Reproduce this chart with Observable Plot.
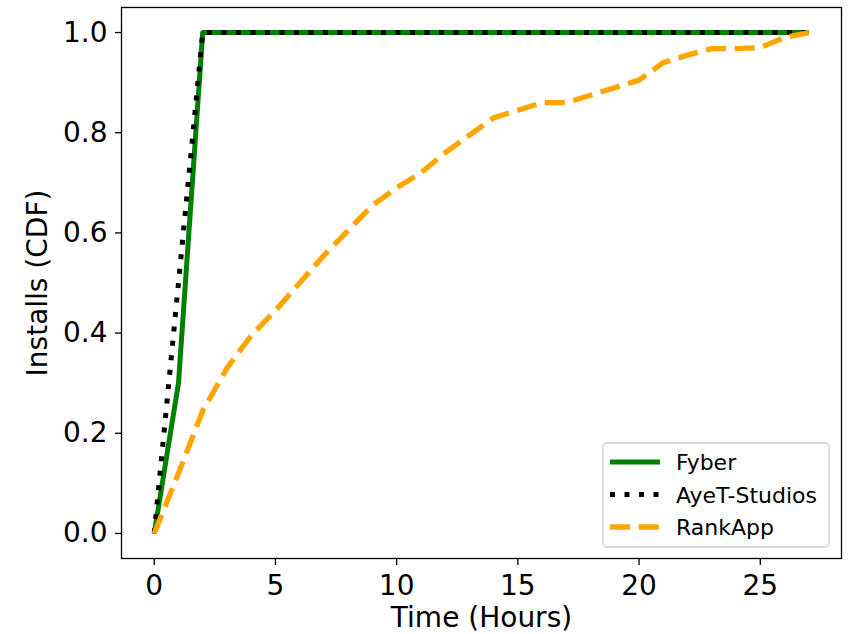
<!DOCTYPE html>
<html>
<head>
<meta charset="utf-8">
<script src="https://cdn.jsdelivr.net/npm/d3@7"></script>
<script src="https://cdn.jsdelivr.net/npm/@observablehq/plot@0.6"></script>
<style>
  html, body { margin: 0; padding: 0; background: white; }
  #chart svg { display: block; }
</style>
</head>
<body>
<div id="chart"></div>
<script>
// ---- data ----
const hours = [0,1,2,3,4,5,6,7,8,9,10,11,12,13,14,15,16,17,18,19,20,21,22,23,24,25,26,27];
const fyber = [0,0.3,1,1,1,1,1,1,1,1,1,1,1,1,1,1,1,1,1,1,1,1,1,1,1,1,1,1];
const ayet  = [0,0.5,1,1,1,1,1,1,1,1,1,1,1,1,1,1,1,1,1,1,1,1,1,1,1,1,1,1];
const rankApp = [0,0.12,0.245,0.33,0.395,0.445,0.50,0.555,0.605,0.655,0.69,0.72,0.76,0.795,0.83,0.845,0.86,0.86,0.875,0.89,0.905,0.94,0.955,0.968,0.968,0.97,0.99,1.0];
const seriesNames = ["Fyber", "AyeT-Studios", "RankApp"];
const xTicks = [0,5,10,15,20,25];
const yTicks = [0,0.2,0.4,0.6,0.8,1.0];
const xLabel = "Time (Hours)";
const yLabel = "Installs (CDF)";

const styles = {
  "Fyber": {stroke: "green", strokeWidth: 5, dash: null, cap: "butt"},
  "AyeT-Studios": {stroke: "black", strokeWidth: 5, dash: "5 9.5", cap: "butt"},
  "RankApp": {stroke: "orange", strokeWidth: 5.3, dash: "20 8.7", cap: "butt"}
};
const values = {"Fyber": fyber, "AyeT-Studios": ayet, "RankApp": rankApp};
const rows = name => hours.map((h, i) => ({t: h, v: values[name][i]}));

const lineMarks = seriesNames.map(name => Plot.line(rows(name), {
  x: "t", y: "v",
  stroke: styles[name].stroke,
  strokeWidth: styles[name].strokeWidth,
  strokeDasharray: styles[name].dash,
  strokeLinecap: styles[name].cap,
  strokeLinejoin: "round"
}));

const FS = 28;
const chart = Plot.plot({
  width: 851,
  height: 634,
  marginLeft: 121,
  marginRight: 10,
  marginTop: 7,
  marginBottom: 76,
  style: {fontFamily: "DejaVu Sans", fontSize: FS + "px", color: "black", background: "white"},
  x: {domain: [-1.35, 28.35]},
  y: {domain: [-0.05, 1.05]},
  marks: [
    ...lineMarks,
    Plot.frame({stroke: "black", strokeWidth: 1.3}),
    Plot.axisX({ticks: xTicks, tickSize: 7, tickPadding: 10, label: null, strokeWidth: 1.3, fontSize: FS}),
    Plot.axisY({ticks: yTicks, tickSize: 6, tickPadding: 8, label: null, tickFormat: d3.format(".1f"), strokeWidth: 1.3, fontSize: FS}),
    Plot.text([xLabel], {text: d => d, frameAnchor: "bottom", dy: 60, textAnchor: "middle", lineAnchor: "middle", fontSize: FS, fill: "black"}),
    Plot.text([yLabel], {text: d => d, frameAnchor: "left", dx: -83, rotate: -90, textAnchor: "middle", lineAnchor: "middle", fontSize: FS, fill: "black"})
  ]
});
document.getElementById("chart").appendChild(chart);

// ---- legend ----
const svg = d3.select(chart);
const lg = svg.append("g").attr("class", "legend");
lg.append("rect")
  .attr("x", 603).attr("y", 443).attr("width", 226).attr("height", 104)
  .attr("rx", 4).attr("fill", "white").attr("fill-opacity", 0.8)
  .attr("stroke", "#cccccc").attr("stroke-width", 1.3);
seriesNames.forEach((name, i) => {
  const yy = 462 + i * 32.5;
  const s = styles[name];
  lg.append("line")
    .attr("x1", 610).attr("x2", 660).attr("y1", yy).attr("y2", yy)
    .attr("stroke", s.stroke).attr("stroke-width", s.strokeWidth)
    .attr("stroke-dasharray", s.dash).attr("stroke-linecap", s.cap);
  lg.append("text")
    .attr("x", 676).attr("y", yy + 8)
    .attr("text-anchor", "start")
    .attr("font-family", "DejaVu Sans").attr("font-size", 22)
    .attr("fill", "black")
    .text(name);
});
</script>
</body>
</html>
